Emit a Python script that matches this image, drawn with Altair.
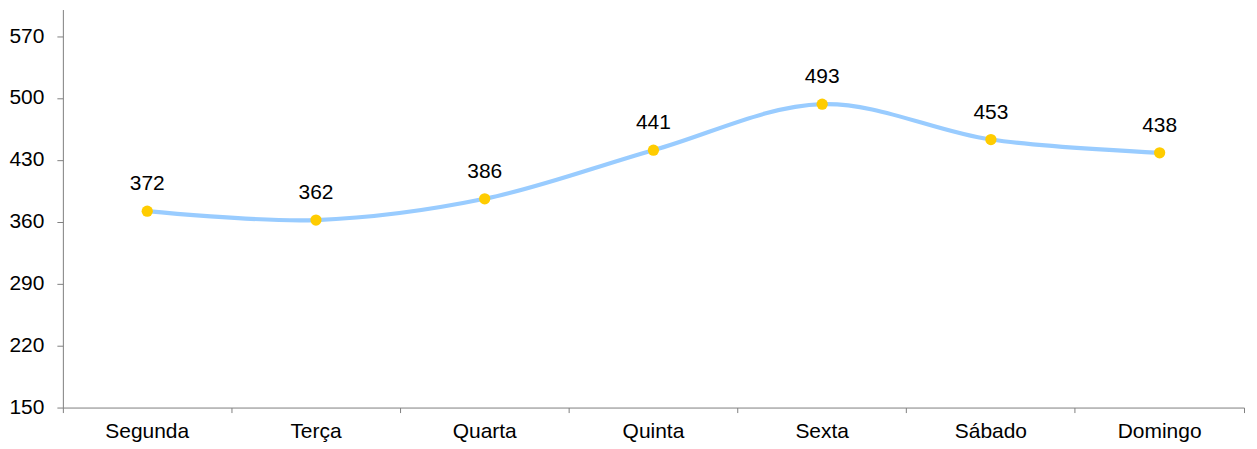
import altair as alt
import pandas as pd

days = ["Segunda", "Terça", "Quarta", "Quinta", "Sexta", "Sábado", "Domingo"]
values = [372, 362, 386, 441, 493, 453, 438]
y_ticks = [150, 220, 290, 360, 430, 500, 570]

df = pd.DataFrame({"dia": days, "valor": values})

FONT = "Liberation Sans"
AXIS_COLOR = "#808080"
FS = 21

x = alt.X(
    "dia:N",
    sort=days,
    title=None,
    scale=alt.Scale(type="band", paddingInner=0, paddingOuter=0),
    axis=alt.Axis(
        labelAngle=0,
        bandPosition=1,
        tickExtra=True,
        tickSize=5,
        labelPadding=8,
        labelFont=FONT,
        labelFontSize=FS,
        labelColor="black",
        domainColor=AXIS_COLOR,
        tickColor=AXIS_COLOR,
        grid=False,
    ),
)
y = alt.Y(
    "valor:Q",
    title=None,
    scale=alt.Scale(domain=[150, 600], nice=False, zero=False),
    axis=alt.Axis(
        values=y_ticks,
        tickSize=6,
        labelPadding=13,
        labelFont=FONT,
        labelFontSize=FS,
        labelColor="black",
        domainColor=AXIS_COLOR,
        tickColor=AXIS_COLOR,
        grid=False,
    ),
)

base = alt.Chart(df).encode(x=x, y=y)

line = base.mark_line(color="#99CCFF", strokeWidth=4.2, interpolate="catmull-rom")
points = base.mark_point(filled=True, color="#FFCC00", size=127, opacity=1)
labels = base.mark_text(
    font=FONT, fontSize=FS, color="black", baseline="alphabetic", dy=-21
).encode(text="valor:Q")

chart = (
    alt.layer(line, points, labels)
    .properties(
        width=1184,
        height=399,
        autosize=alt.AutoSizeParams(type="none"),
        padding={"left": 55, "top": 1, "right": 5, "bottom": 36},
    )
    .configure_view(stroke=None, strokeWidth=0)
)

chart.save("out.html", embed_options={"renderer": "svg", "actions": False})
